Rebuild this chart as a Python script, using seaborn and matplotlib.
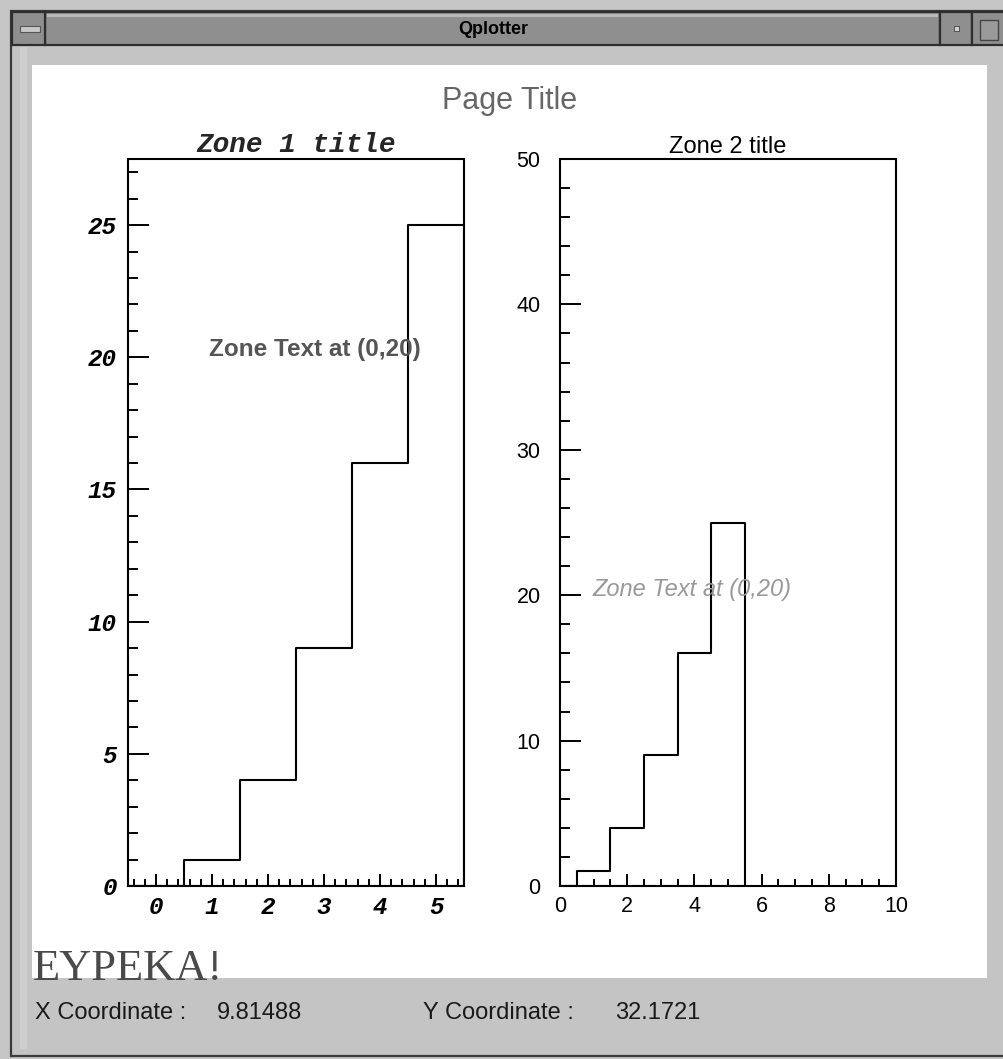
import numpy as np
import pandas as pd
import matplotlib
matplotlib.use("Agg")
import matplotlib.pyplot as plt
from matplotlib.patches import Rectangle
from matplotlib.ticker import MultipleLocator
import seaborn as sns

# Histogram contents: one bin per integer channel
channels = [0, 1, 2, 3, 4, 5]
contents = [0, 1, 4, 9, 16, 25]

page_title = "Page Title"
zone1_title = "Zone 1 title"
zone2_title = "Zone 2 title"
zone_text = "Zone Text at (0,20)"
x_coord = "9.81488"
y_coord = "32.1721"

sns.set_theme(style="white")
plt.rcParams["font.family"] = ["Liberation Sans", "DejaVu Sans"]

W, H = 1004, 1059
fig = plt.figure(figsize=(W / 100, H / 100), dpi=100)
fig.patch.set_facecolor("#c6c6c6")

# Window frame drawn in pixel coordinates
bg = fig.add_axes([0, 0, 1, 1], zorder=0)
bg.set_xlim(0, W)
bg.set_ylim(H, 0)
bg.axis("off")


def rect(x0, y0, x1, y1, fc, ec="none", lw=0, z=1):
    bg.add_patch(Rectangle((x0, y0), x1 - x0, y1 - y0, facecolor=fc,
                           edgecolor=ec, linewidth=lw, zorder=z))


# outer frame
rect(11, 11, W + 5, H - 3, "#c4c4c4", ec="#3a3a3a", lw=1.6)
rect(20, 47, 27, H - 10, "#cecece", z=1.5)
# title bar and buttons
rect(45, 12, 940, 45, "#8f8f8f", ec="#2e2e2e", lw=1.6, z=2)
rect(47, 14, 938, 17, "#b8b8b8", z=2.1)
rect(12, 12, 45, 45, "#8f8f8f", ec="#2e2e2e", lw=1.6, z=2)
rect(20, 26, 40, 32, "#c8c8c8", ec="#555555", lw=0.8, z=2.2)
rect(940, 12, 972, 45, "#8f8f8f", ec="#2e2e2e", lw=1.6, z=2)
rect(954, 26, 959, 31, "#d0d0d0", ec="#444444", lw=0.6, z=2.2)
rect(972, 12, W + 5, 45, "#8f8f8f", ec="#2e2e2e", lw=1.6, z=2)
rect(980, 20, 998, 40, "#9a9a9a", ec="#444444", lw=1.0, z=2.2)
# white drawing area
rect(32, 65, 987, 978, "white", z=2)

bg.text(493, 29, "Qplotter", ha="center", va="center", fontsize=13,
        fontweight="bold", color="black", zorder=5)
bg.text(510, 101, page_title, ha="center", va="center", fontsize=22,
        color="#666666", zorder=5)
bg.text(33, 980, "ΕΥΡΕΚΑ!", ha="left", va="baseline", fontsize=32,
        family=["Liberation Serif", "DejaVu Serif"], color="#4a4a4a", zorder=5)
for x, s in [(35, "X Coordinate :"), (217, x_coord),
             (423, "Y Coordinate :"), (615, y_coord)]:
    bg.text(x, 1013, s, ha="left", va="center", fontsize=17,
            color="#1a1a1a", zorder=5)


def px_axes(x0, y0, x1, y1):
    return fig.add_axes([x0 / W, 1 - y1 / H, (x1 - x0) / W, (y1 - y0) / H],
                        zorder=3)


df = pd.DataFrame({"channel": channels, "content": contents})


def draw_hist(ax):
    sns.histplot(data=df, x="channel", weights="content", discrete=True,
                 element="step", fill=True, ax=ax)
    poly = ax.collections[0]
    poly.set_facecolor("none")
    poly.set_edgecolor("black")
    poly.set_linewidth(1.5)
    ax.set_xlabel("")
    ax.set_ylabel("")
    ax.set_facecolor("none")
    for side, sp in ax.spines.items():
        sp.set_visible(True)
        sp.set_color("black")
        sp.set_linewidth(1.5)


mono = dict(family=["Liberation Mono", "DejaVu Sans Mono"],
            fontweight="bold", fontstyle="italic")

# Zone 1
ax1 = px_axes(128, 159, 464, 886)
draw_hist(ax1)
ax1.set_xlim(-0.5, 5.5)
ax1.set_ylim(0, 27.5)
ax1.xaxis.set_major_locator(MultipleLocator(1))
ax1.xaxis.set_minor_locator(MultipleLocator(0.2))
ax1.yaxis.set_major_locator(MultipleLocator(5))
ax1.yaxis.set_minor_locator(MultipleLocator(1))
ax1.tick_params(axis="x", which="major", direction="in", length=8.6,
                width=1.4, pad=7, color="black")
ax1.tick_params(axis="x", which="minor", direction="in", length=5,
                width=1.4, color="black")
ax1.tick_params(axis="y", which="major", direction="in", length=15,
                width=1.4, pad=8, color="black")
ax1.tick_params(axis="y", which="minor", direction="in", length=7.2,
                width=1.4, color="black")
ax1.tick_params(which="both", bottom=True, left=True, top=False, right=False)
for lab in ax1.get_xticklabels() + ax1.get_yticklabels():
    lab.set_fontfamily(mono["family"])
    lab.set_fontweight("bold")
    lab.set_fontstyle("italic")
    lab.set_fontsize(17.5)
    lab.set_color("black")
ax1.set_title(zone1_title, pad=5, fontsize=20, **mono)
ax1.text(0.95, 20.3, zone_text, ha="left", va="center", fontsize=17.5,
         fontweight="bold", color="#555555")

# Zone 2
ax2 = px_axes(560, 159, 896, 886)
draw_hist(ax2)
ax2.set_xlim(0, 10)
ax2.set_ylim(0, 50)
ax2.xaxis.set_major_locator(MultipleLocator(2))
ax2.xaxis.set_minor_locator(MultipleLocator(0.5))
ax2.yaxis.set_major_locator(MultipleLocator(10))
ax2.yaxis.set_minor_locator(MultipleLocator(2))
ax2.tick_params(axis="x", which="major", direction="in", length=8.6,
                width=1.4, pad=7, color="black", labelsize=15.5)
ax2.tick_params(axis="x", which="minor", direction="in", length=5,
                width=1.4, color="black")
ax2.tick_params(axis="y", which="major", direction="in", length=15,
                width=1.4, pad=14, color="black", labelsize=15.5)
ax2.tick_params(axis="y", which="minor", direction="in", length=7.2,
                width=1.4, color="black")
ax2.tick_params(which="both", bottom=True, left=True, top=False, right=False,
                labelcolor="black")
ax2.set_title(zone2_title, pad=4.5, fontsize=17, color="black")
ax2.text(0.98, 20.4, zone_text, ha="left", va="center", fontsize=17,
         fontstyle="italic", color="#999999")

fig.savefig("out.png", dpi=100, facecolor=fig.get_facecolor())
